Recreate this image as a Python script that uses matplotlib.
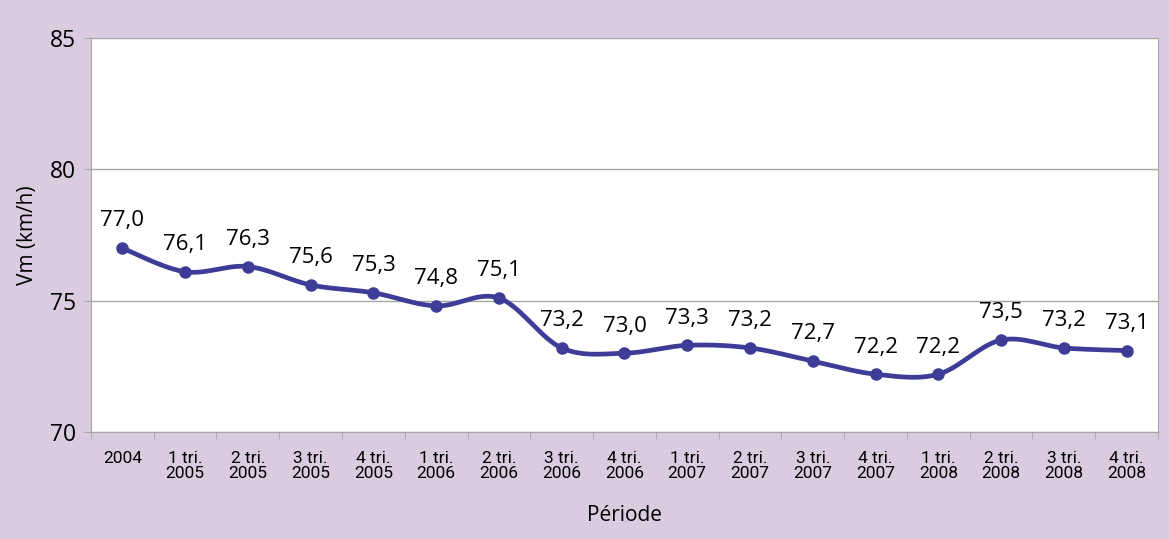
import numpy as np
import matplotlib
matplotlib.use("Agg")
import matplotlib.pyplot as plt

# data
periods = ["2004", "1 tri.\n2005", "2 tri.\n2005", "3 tri.\n2005", "4 tri.\n2005",
           "1 tri.\n2006", "2 tri.\n2006", "3 tri.\n2006", "4 tri.\n2006",
           "1 tri.\n2007", "2 tri.\n2007", "3 tri.\n2007", "4 tri.\n2007",
           "1 tri.\n2008", "2 tri.\n2008", "3 tri.\n2008", "4 tri.\n2008"]
speed = [77.0, 76.1, 76.3, 75.6, 75.3, 74.8, 75.1, 73.2, 73.0,
         73.3, 73.2, 72.7, 72.2, 72.2, 73.5, 73.2, 73.1]
y_ticks = [70, 75, 80, 85]

BG = "#dacbe1"
LINE = "#3d3d97"

plt.rcParams['font.family'] = ['Open Sans', 'DejaVu Sans']


def smooth(x, y, steps=30):
    """Catmull-Rom style bezier smoothing, like spreadsheet smoothed lines."""
    pts = np.column_stack([x, y]).astype(float)
    ext = np.vstack([pts[0], pts, pts[-1]])
    out = []
    for i in range(1, len(ext) - 2):
        p0, p1, p2, p3 = ext[i - 1], ext[i], ext[i + 1], ext[i + 2]
        c1 = p1 + (p2 - p0) / 6
        c2 = p2 - (p3 - p1) / 6
        t = np.linspace(0, 1, steps)[:, None]
        seg = ((1 - t) ** 3 * p1 + 3 * (1 - t) ** 2 * t * c1
               + 3 * (1 - t) * t ** 2 * c2 + t ** 3 * p2)
        out.append(seg if i == 1 else seg[1:])
    out = np.vstack(out)
    return out[:, 0], out[:, 1]


fig = plt.figure(figsize=(11.69, 5.39), dpi=100, facecolor=BG)
ax = fig.add_axes([0.0778, 0.1985, 0.9128, 0.731])
ax.set_facecolor("white")

x = np.arange(len(speed))
sx, sy = smooth(x, speed)
ax.plot(sx, sy, color=LINE, lw=3.4, solid_capstyle="round", zorder=3)
ax.plot(x, speed, "o", color=LINE, ms=8, zorder=4)

for xi, v in zip(x, speed):
    ax.annotate(f"{v:.1f}".replace(".", ","), (xi, v), xytext=(0, 12),
                textcoords="offset points", ha="center", va="bottom",
                fontsize=16, color="black")

ax.set_xlim(-0.5, len(speed) - 0.5)
ax.set_ylim(70, 85)
ax.set_yticks(y_ticks)
ax.set_yticklabels([str(t) for t in y_ticks], fontsize=16.5)
ax.grid(axis="y", color="#a6a6a6", lw=1)
ax.set_axisbelow(True)

ax.set_xticks(x)
ax.set_xticklabels(periods, fontsize=12.5, linespacing=1.0, family="Roboto")
ax.set_xticks(np.arange(len(speed) + 1) - 0.5, minor=True)
ax.tick_params(axis="x", which="major", length=0, pad=14)
ax.tick_params(axis="x", which="minor", length=5, color="#a6a6a6")
ax.tick_params(axis="y", length=5, color="#a6a6a6", pad=6)

for side in ["left", "bottom", "right"]:
    ax.spines[side].set_color("#a6a6a6")
ax.spines["top"].set_visible(False)

ax.set_xlabel("Période", fontsize=15, labelpad=17)
ax.set_ylabel("Vm (km/h)", fontsize=15, labelpad=8)

fig.savefig("out.png", dpi=100, facecolor=BG)
